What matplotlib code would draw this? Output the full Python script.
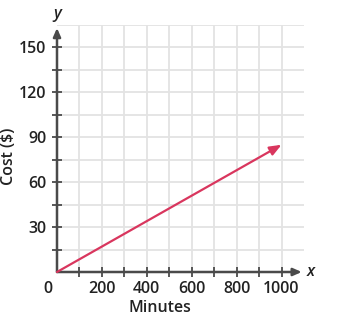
import numpy as np
import matplotlib.pyplot as plt

# data
minutes = [0, 1000]
cost = [0, 85]
x_major = [200, 400, 600, 800, 1000]
x_minor = [100, 300, 500, 700, 900]
y_major = [30, 60, 90, 120, 150]
y_minor = [15, 45, 75, 105, 135]

plt.rcParams['font.family'] = ['Open Sans', 'DejaVu Sans']
plt.rcParams['font.weight'] = 600
plt.rcParams['axes.labelweight'] = 600
W, H = 350, 323
fig = plt.figure(figsize=(W/100, H/100), dpi=100)
ax = fig.add_axes([57/W, (H-272)/H, 247/W, 247/H])
ax.set_xlim(0, 1100)
ax.set_ylim(0, 165)

axc = '#4a4a4a'
tc = '#222222'
fs = 11.5
for s in ax.spines.values():
    s.set_visible(False)

# grid
for gx in x_major + x_minor:
    ax.axvline(gx, color='#e3e3e3', lw=1.3, zorder=0)
for gy in y_major + y_minor + [165]:
    ax.axhline(gy, color='#e3e3e3', lw=1.3, zorder=0)

# axes with arrows
ax.annotate('', xy=(1090, 0), xytext=(0, 0), annotation_clip=False,
            arrowprops=dict(arrowstyle='-|>,head_length=0.5,head_width=0.22', color=axc, lw=1.8, shrinkA=0, shrinkB=0))
ax.annotate('', xy=(0, 163), xytext=(0, 0), annotation_clip=False,
            arrowprops=dict(arrowstyle='-|>,head_length=0.5,head_width=0.22', color=axc, lw=1.8, shrinkA=0, shrinkB=0))

ax.set_xticks(x_major)
ax.set_xticks(x_minor, minor=True)
ax.set_yticks(y_major)
ax.set_yticks(y_minor, minor=True)
ax.set_xticklabels([str(v) for v in x_major])
ax.set_yticklabels([str(v) for v in y_major])
ax.tick_params(which='both', direction='inout', length=7, width=1.3, color=axc,
               labelsize=fs, labelcolor=tc, pad=3)
ax.tick_params(axis='y', pad=4)

# line
ax.annotate('', xy=(minutes[1], cost[1]), xytext=(minutes[0], cost[0]),
            arrowprops=dict(arrowstyle='-|>,head_length=0.7,head_width=0.28', color='#d9365e', lw=1.6, shrinkA=0, shrinkB=0))

ax.text(-40, -6, '0', ha='center', va='top', fontsize=fs, color=tc)
ax.text(1110, 0, 'x', ha='left', va='center', fontsize=fs, style='italic', color=tc)
ax.text(0, 167, 'y', ha='center', va='bottom', fontsize=fs, style='italic', color=tc)
ax.set_xlabel('Minutes', fontsize=fs, color=tc)
ax.xaxis.set_label_coords(460/1100, -0.115)
ax.set_ylabel('Cost ($)', fontsize=fs, color=tc)
ax.yaxis.set_label_coords(-0.16, 0.47)

fig.savefig('out.png', dpi=100)
